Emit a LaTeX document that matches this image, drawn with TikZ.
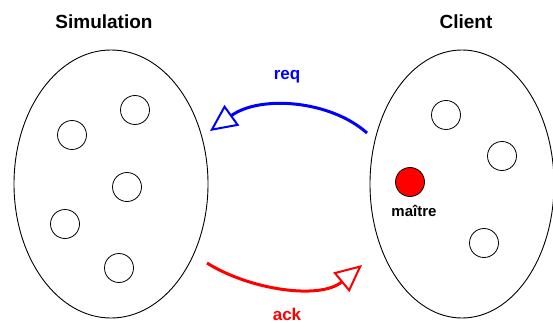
\documentclass[tikz,border=0pt]{standalone}
\usepackage{fontspec}
\setmainfont{Liberation Sans}
\usetikzlibrary{arrows.meta}
\begin{document}
\begin{tikzpicture}[x=1pt,y=-1pt,
  blob/.style={draw,line width=0.9pt},
  ball/.style={circle,draw,line width=0.8pt,minimum size=29pt,inner sep=0pt},
  title/.style={font=\bfseries\fontsize{19}{22}\selectfont},
  lbl/.style={font=\bfseries\fontsize{17}{20}\selectfont},
  msg/.style={line width=3pt,-{Triangle[open,length=27pt,width=25pt,line width=2pt]}}]
\useasboundingbox (0,0) rectangle (553,323);
\node[title] (simt) at (104,22) {Simulation};
\node[title] (clit) at (466,22) {Client};
\draw[blob] (111,184) ellipse [x radius=97, y radius=134];
\draw[blob] (462,184) ellipse [x radius=92, y radius=134];
\node[ball] (s1) at (72,135) {};
\node[ball] (s2) at (135,110) {};
\node[ball] (s3) at (127,187) {};
\node[ball] (s4) at (65,224) {};
\node[ball] (s5) at (119,268) {};
\node[ball] (c1) at (446,115) {};
\node[ball] (c2) at (502,156) {};
\node[ball] (c3) at (484,243) {};
\node[ball,fill=red] (m) at (410,182) {};
\node[lbl,font=\bfseries\fontsize{15}{18}\selectfont] (ml) at (414,211) {maître};
\coordinate (rs) at (367,133);
\coordinate (re) at (210,131);
\coordinate (as) at (207,263);
\coordinate (ae) at (362,265);
\draw[msg,blue] (rs) .. controls (330,100) and (260,95) .. (re);
\draw[msg,red] (as) .. controls (250,290) and (320,300) .. (ae);
\node[lbl,text=blue] (req) at (287,77) {req};
\node[lbl,text=red] (ack) at (287,314) {ack};
\end{tikzpicture}
\end{document}
